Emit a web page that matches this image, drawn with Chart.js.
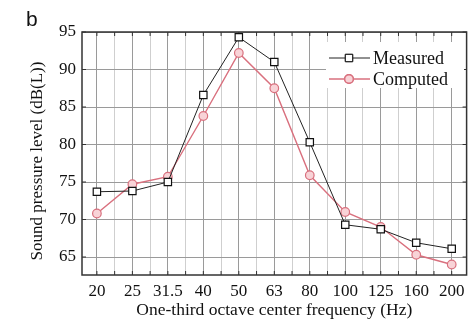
<!DOCTYPE html>
<html>
<head>
<meta charset="utf-8">
<script src="https://cdn.jsdelivr.net/npm/chart.js@4/dist/chart.umd.min.js"></script>
<style>
  html, body { margin: 0; padding: 0; background: #fff; }
  #wrap { width: 473px; height: 326px; position: relative; }
</style>
</head>
<body>
<div id="wrap"><canvas id="spl-chart"></canvas></div>
<script>
// Tần số trung tâm 1/3 octave (Hz)
const frequencies = ["20", "25", "31.5", "40", "50", "63", "80", "100", "125", "160", "200"];
// Mức áp suất âm đo được và tính toán (dB(L))
const measured = [73.7, 73.8, 75.0, 86.6, 94.3, 91.0, 80.3, 69.3, 68.7, 66.9, 66.1];
const computed = [70.8, 74.7, 75.7, 83.8, 92.2, 87.5, 75.9, 71.0, 69.0, 65.3, 64.0];
const yTicks = [65, 67.5, 70, 72.5, 75, 77.5, 80, 82.5, 85, 87.5, 90, 92.5, 95];

const serif = "'Liberation Serif', 'Times New Roman', serif";
const pink = "#d9707e";

function toPoints(values) {
    return values.map((v, i) => ({ x: i, y: v }));
}

// Vẽ khung, nhãn "b", tiêu đề trục tung và chú thích bên trong vùng biểu đồ
const framePlugin = {
    id: "frame",
    beforeDatasetsDraw(chart) {
        const { ctx, chartArea: a } = chart;
        ctx.save();
        ctx.strokeStyle = "#333";
        ctx.lineWidth = 1.5;
        ctx.strokeRect(a.left, a.top, a.right - a.left, a.bottom - a.top);
        // vạch chia hướng vào trong ở cả bốn cạnh
        ctx.lineWidth = 1;
        chart.scales.x.ticks.forEach(t => {
            const px = chart.scales.x.getPixelForValue(t.value);
            ctx.beginPath();
            ctx.moveTo(px, a.top); ctx.lineTo(px, a.top + 4);
            ctx.moveTo(px, a.bottom); ctx.lineTo(px, a.bottom - 4);
            ctx.stroke();
        });
        chart.scales.y.ticks.forEach(t => {
            const py = chart.scales.y.getPixelForValue(t.value);
            ctx.beginPath();
            ctx.moveTo(a.right, py); ctx.lineTo(a.right - 4, py);
            ctx.moveTo(a.left, py); ctx.lineTo(a.left + 4, py);
            ctx.stroke();
        });
        ctx.restore();
    },
    afterDraw(chart) {
        const { ctx } = chart;
        ctx.save();
        ctx.fillStyle = "#111";
        ctx.font = "21px 'Liberation Sans', Arial, sans-serif";
        ctx.textBaseline = "alphabetic";
        ctx.fillText("b", 26, 26);

        // tiêu đề trục tung
        ctx.save();
        ctx.translate(38, 161);
        ctx.rotate(-Math.PI / 2);
        ctx.font = "17px " + serif;
        ctx.textAlign = "center";
        ctx.textBaseline = "middle";
        ctx.fillText("Sound pressure level (dB(L))", 0, 0);
        ctx.restore();

        // khung chú thích
        const lx = 326, ly = 42;
        ctx.fillStyle = "#fff";
        ctx.fillRect(lx, ly, 138, 46);
        const rows = [
            { ds: chart.data.datasets[0], y: ly + 16 },
            { ds: chart.data.datasets[1], y: ly + 37 }
        ];
        rows.forEach(r => {
            ctx.strokeStyle = r.ds.borderColor;
            ctx.lineWidth = r.ds.borderWidth;
            ctx.beginPath();
            ctx.moveTo(lx + 3, r.y);
            ctx.lineTo(lx + 44, r.y);
            ctx.stroke();
            Chart.helpers.drawPoint(ctx, {
                pointStyle: r.ds.pointStyle,
                radius: r.ds.pointRadius,
                borderWidth: 1
            }, lx + 23, r.y);
            ctx.fillStyle = r.ds.pointBackgroundColor;
            ctx.strokeStyle = r.ds.pointBorderColor;
            ctx.fill();
            ctx.stroke();
            ctx.fillStyle = "#111";
            ctx.font = "18px " + serif;
            ctx.textBaseline = "middle";
            ctx.fillText(r.ds.label, lx + 47, r.y + 1);
        });
        ctx.restore();
    }
};

const ctx = document.getElementById("spl-chart").getContext("2d");
new Chart(ctx, {
    type: "line",
    data: {
        datasets: [
            {
                label: "Measured",
                data: toPoints(measured),
                borderColor: "#222",
                borderWidth: 1,
                pointStyle: "rect",
                pointRadius: 5.2,
                pointBorderWidth: 1.2,
                pointBackgroundColor: "#fff",
                pointBorderColor: "#111",
                tension: 0
            },
            {
                label: "Computed",
                data: toPoints(computed),
                borderColor: pink,
                borderWidth: 1.4,
                pointStyle: "circle",
                pointRadius: 4.3,
                pointBorderWidth: 1.2,
                pointBackgroundColor: "#f8d3d7",
                pointBorderColor: pink,
                tension: 0
            }
        ]
    },
    options: {
        responsive: true,
        maintainAspectRatio: false,
        animation: false,
        layout: { padding: { top: 32, right: 6, left: 0, bottom: 0 } },
        plugins: {
            legend: { display: false },
            tooltip: { enabled: false }
        },
        scales: {
            x: {
                type: "linear",
                min: -0.42,
                max: 10.42,
                afterBuildTicks: axis => {
                    axis.ticks = [];
                    for (let v = 0; v <= 10; v += 0.5) axis.ticks.push({ value: v });
                },
                afterFit: axis => { axis.height = 51; },
                grid: {
                    drawTicks: false,
                    color: c => Number.isInteger(c.tick.value) ? "#9a9a9a" : "#cfcfcf",
                    lineWidth: 1
                },
                border: { display: false },
                ticks: {
                    autoSkip: false,
                    maxRotation: 0,
                    padding: 6,
                    color: "#111",
                    font: { family: serif, size: 17 },
                    callback: v => Number.isInteger(v) ? frequencies[v] : ""
                },
                title: {
                    display: true,
                    text: "One-third octave center frequency (Hz)",
                    color: "#111",
                    font: { family: serif, size: 17.5 },
                    padding: { top: 0, bottom: 5 }
                }
            },
            y: {
                min: 62.6,
                max: 95,
                afterBuildTicks: axis => {
                    axis.ticks = yTicks.map(v => ({ value: v }));
                },
                afterFit: axis => { axis.width = 82; },
                grid: {
                    drawTicks: false,
                    color: c => c.tick.value % 5 === 0 ? "#9a9a9a" : "#cfcfcf",
                    lineWidth: 1
                },
                border: { display: false },
                ticks: {
                    padding: 6,
                    color: "#111",
                    font: { family: serif, size: 17 },
                    callback: v => v % 5 === 0 ? String(v) : ""
                },
                title: { display: false }
            }
        }
    },
    plugins: [framePlugin]
});
</script>
</body>
</html>
